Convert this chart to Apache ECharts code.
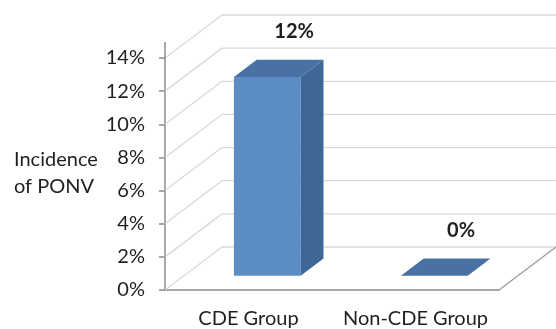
<!DOCTYPE html>
<html lang="en">

<head>
    <meta charset="UTF-8" />
    <meta name="viewport" content="width=device-width, initial-scale=1.0" />
    <title>Incidence of PONV</title>
    <script src="https://cdn.jsdelivr.net/npm/echarts@6/dist/echarts.min.js"></script>
    <style>
        body { margin: 0; background: #fff; }
    </style>
</head>

<body>
    <div id="main" style="width: 556px; height: 329px;"></div>

    <script>
        const categories = ['CDE Group', 'Non-CDE Group'];
        const incidence = [12, 0];
        const yTicks = [0, 2, 4, 6, 8, 10, 12, 14];

        // fake 3D: depth of the walls in px, and where the bars sit in that depth
        const DX = 57, DY = -43;
        const D0 = 0.33, D1 = 0.73;
        const FONT = 'Lato';
        const TEXT = '#1f1f1f';

        const myChart = echarts.init(document.getElementById('main'));

        function wallItem(params, api) {
            const cs = params.coordSys;
            const x0 = cs.x, x1 = cs.x + cs.width;
            const v = api.value(1);
            const y = api.coord([0, v])[1];
            const light = { stroke: '#d9d9d9', lineWidth: 1.3 };
            const kids = [
                { type: 'line', shape: { x1: x0, y1: y, x2: x0 + DX, y2: y + DY }, style: light },
                { type: 'line', shape: { x1: x0 + DX, y1: y + DY, x2: x1 + DX + 4, y2: y + DY }, style: light }
            ];
            if (v === 0) {
                kids.push({ type: 'line', shape: { x1: x1, y1: y, x2: x1 + DX, y2: y + DY }, style: { stroke: '#9a9a9a', lineWidth: 1.3 } });
            }
            if (v === yTicks[yTicks.length - 1]) {
                kids.push({ type: 'line', shape: { x1: x0, y1: y, x2: x0, y2: y - 16 }, style: { stroke: '#8c8c8c', lineWidth: 1.5 } });
            }
            return { type: 'group', children: kids };
        }

        function barItem(params, api) {
            const i = api.value(0), v = api.value(1);
            const top = api.coord([i, v]);
            const base = api.coord([i, 0]);
            const bw = api.size([1, 0])[0] * 0.4;
            const xl = top[0] - bw / 2, xr = top[0] + bw / 2;
            const ax = DX * D0, ay = DY * D0, bx = DX * D1, by = DY * D1;
            const yt = top[1], yb = base[1];
            const kids = [];
            if (v > 0) {
                kids.push({
                    type: 'polygon',
                    shape: { points: [[xl + ax, yt + ay], [xr + ax, yt + ay], [xr + ax, yb + ay], [xl + ax, yb + ay]] },
                    style: { fill: '#5b8cc6' }
                });
                kids.push({
                    type: 'polygon',
                    shape: { points: [[xr + ax, yt + ay], [xr + bx, yt + by], [xr + bx, yb + by], [xr + ax, yb + ay]] },
                    style: { fill: '#3f6795' }
                });
            }
            kids.push({
                type: 'polygon',
                shape: { points: [[xl + ax, yt + ay], [xl + bx, yt + by], [xr + bx, yt + by], [xr + ax, yt + ay]] },
                style: { fill: '#4971a3' }
            });
            kids.push({
                type: 'text',
                x: (xl + xr) / 2 + bx + 4,
                y: yt + by - 28,
                style: {
                    text: v + '%', fill: TEXT, fontFamily: FONT, fontWeight: 'bold', fontSize: 20,
                    align: 'center', verticalAlign: 'middle'
                }
            });
            return { type: 'group', children: kids };
        }

        const options = {
            animation: false,
            title: {
                text: 'Incidence\nof PONV',
                left: 9,
                top: 141,
                textStyle: { fontFamily: FONT, fontWeight: 'normal', fontSize: 20, lineHeight: 27, color: TEXT }
            },
            grid: { left: 165, right: 57, top: 58, bottom: 38 },
            xAxis: {
                type: 'category',
                data: categories,
                axisLine: { lineStyle: { color: '#8c8c8c', width: 1.5 } },
                axisTick: { length: 6, lineStyle: { color: '#8c8c8c', width: 1.5 } },
                axisLabel: { interval: 0, fontFamily: FONT, fontSize: 20, color: TEXT, margin: 19 }
            },
            yAxis: {
                type: 'value',
                min: 0,
                max: 14,
                interval: 2,
                axisLine: { show: true, lineStyle: { color: '#8c8c8c', width: 1.5 } },
                axisTick: { show: true, length: 6, lineStyle: { color: '#8c8c8c', width: 1.5 } },
                axisLabel: { formatter: '{value}%', fontFamily: FONT, fontSize: 20, color: TEXT, margin: 20 },
                splitLine: { show: false }
            },
            series: [
                {
                    type: 'custom',
                    z: 1,
                    clip: false,
                    renderItem: wallItem,
                    encode: { x: 0, y: 1 },
                    data: yTicks.map(v => [0, v])
                },
                {
                    type: 'custom',
                    z: 3,
                    clip: false,
                    renderItem: barItem,
                    encode: { x: 0, y: 1 },
                    data: incidence.map((v, i) => [i, v])
                }
            ]
        };

        myChart.setOption(options);
    </script>
</body>

</html>
